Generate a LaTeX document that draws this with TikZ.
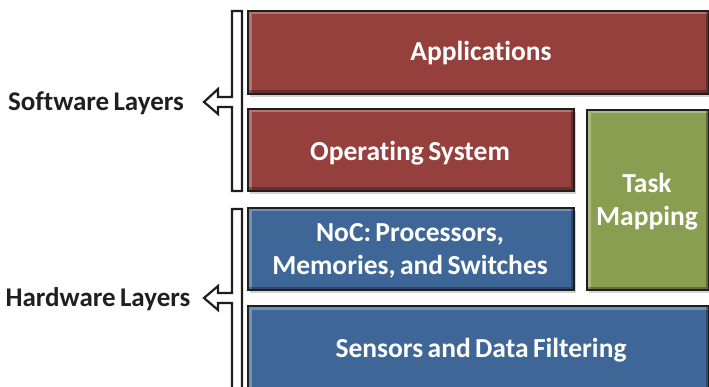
\documentclass[tikz,border=0pt]{standalone}
\usepackage{fontspec}
\setmainfont{Carlito}[Ligatures=NoCommon, WordSpace=0.7]
\usetikzlibrary{shadows}
\definecolor{swred}{RGB}{150,64,61}
\definecolor{hwblue}{RGB}{62,103,152}
\definecolor{tmgreen}{RGB}{137,158,80}
\definecolor{edge}{RGB}{30,30,30}
\tikzset{
  layerbox/.style={draw=edge, line width=2pt, fill=#1, rectangle, inner sep=0pt,
    anchor=north west,
    drop shadow={shadow xshift=2pt, shadow yshift=-3pt, opacity=0.35},
    path picture={
      \draw[white, opacity=0.28, line width=7pt]
        (path picture bounding box.south west) -- (path picture bounding box.north west)
        -- (path picture bounding box.north east);
      \draw[black, opacity=0.3, line width=7pt]
        (path picture bounding box.north east) -- (path picture bounding box.south east)
        -- (path picture bounding box.south west);
    }},
  boxtext/.style={text=white, align=center, inner sep=0pt,
    font=\fontsize{27.5}{33}\selectfont\bfseries},
  bracketshape/.style={draw=edge, line width=2.2pt, fill=white, line join=miter},
  sidelabel/.style={font=\fontsize{27}{32}\selectfont\bfseries, text=black!88, inner sep=0pt}
}
\begin{document}
\begin{tikzpicture}[x=1pt, y=-1pt]
\useasboundingbox (0,0) rectangle (709,387);
\begin{scope}
\clip (0,0) rectangle (709,387);
% boxes
\node[layerbox=swred, minimum width=461pt, minimum height=83pt] (app) at (247,10) {};
\node[boxtext] (appt) at (481,53) {Applications};
\node[layerbox=swred, minimum width=326pt, minimum height=82pt] (os) at (247,108) {};
\node[boxtext] (ost) at (410,153) {Operating System};
\node[layerbox=hwblue, minimum width=326pt, minimum height=82pt] (noc) at (247,207) {};
\node[boxtext] (noct) at (410,251) {NoC: Processors,\\Memories, and Switches};
\node[layerbox=tmgreen, minimum width=122pt, minimum height=180pt] (tm) at (586,109) {};
\node[boxtext] (tmt) at (647,202) {Task\\Mapping};
\node[layerbox=hwblue, minimum width=461pt, minimum height=100pt] (sens) at (247,305) {};
\node[boxtext] (senst) at (481,350) {Sensors and Data Filtering};
% brackets with hollow arrows
\draw[bracketshape] (242,11) -- (242,191) -- (232,191) -- (232,107) -- (218,107) -- (218,114)
  -- (204,102) -- (218,89) -- (218,97) -- (232,97) -- (232,11) -- cycle;
\draw[bracketshape] (242,209) -- (242,400) -- (232,400) -- (232,303) -- (218,303) -- (218,310)
  -- (204,298) -- (218,286) -- (218,293) -- (232,293) -- (232,209) -- cycle;
\end{scope}
\node[sidelabel] (sw) at (96,103) {Software Layers};
\node[sidelabel] (hw) at (98,299) {Hardware Layers};
\end{tikzpicture}
\end{document}
